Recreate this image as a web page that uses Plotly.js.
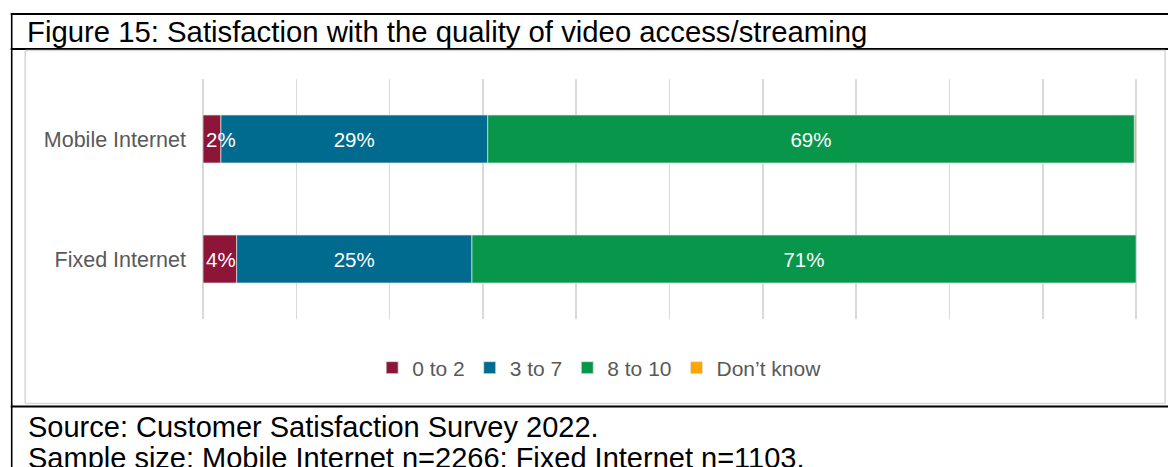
<!DOCTYPE html>
<html>
<head>
<meta charset="utf-8">
<script src="https://cdn.plot.ly/plotly-3.0.1.min.js"></script>
<style>
  html, body { margin: 0; padding: 0; background: #ffffff; }
  #chart { width: 1168px; height: 467px; }
</style>
</head>
<body>
<div id="chart"></div>
<script>
// ---- Data ----
const categories = ["Mobile Internet", "Fixed Internet"];
const seriesNames = ["0 to 2", "3 to 7", "8 to 10", "Don\u2019t know"];
const score0to2  = [1.9, 3.6];
const score3to7  = [28.6, 25.2];
const score8to10 = [69.3, 71.2];
const dontKnow   = [0.2, 0.0];
const seriesColors = ["#8C1538", "#006A8F", "#08974A", "#FFA500"];
const titleText = "Figure 15: Satisfaction with the quality of video access/streaming";
const sourceText = "Source: Customer Satisfaction Survey 2022.";
const sampleText = "Sample size: Mobile Internet n=2266; Fixed Internet n=1103.";

// ---- Layout geometry (pixels in the 1168x467 window) ----
const W = 1168, H = 467;
const XMAX = 100.2;                      // a hair past 100 so the 100% gridline is kept
const plotL = 203.3, plotT = 79, plotB = 319;
const plotR = plotL + (1136.5 - plotL) * XMAX / 100;
const px2x = px => (px - plotL) / (plotR - plotL);
const py2y = py => (plotB - py) / (plotB - plotT);

const FONT = '"Liberation Sans", Arial, sans-serif';

// Stack the segments with explicit bases (cumulative sums of the series),
// then draw them from right to left so each label sits on top.
const valueSets = [score0to2, score3to7, score8to10, dontKnow];
const bases = valueSets.map((vals, i) =>
  vals.map((_, j) => valueSets.slice(0, i).reduce((s, arr) => s + arr[j], 0)));

const traces = valueSets.map((vals, i) => ({
  type: 'bar',
  orientation: 'h',
  name: seriesNames[i],
  y: categories,
  x: vals,
  base: bases[i],
  marker: { color: seriesColors[i], line: { color: 'rgba(220,228,234,0.9)', width: 0.8 } },
  texttemplate: i < 3 ? '%{x:.0f}%' : '',
  textposition: i < 3 ? 'inside' : 'none',
  insidetextanchor: i === 0 ? 'start' : 'middle',
  textangle: 0,
  constraintext: 'none',
  cliponaxis: false,
  textfont: { color: '#ffffff', size: 20.5, family: FONT },
  hoverinfo: 'name+x+y'
})).reverse();

const black = { color: '#000000', width: 2 };
const grey = { color: '#d9d9d9', width: 1.6 };
const hline = (py, x0, x1, line) => ({ type: 'line', xref: 'paper', yref: 'paper',
  x0: px2x(x0), x1: px2x(x1), y0: py2y(py), y1: py2y(py), line });
const vline = (px, y0, y1, line) => ({ type: 'line', xref: 'paper', yref: 'paper',
  x0: px2x(px), x1: px2x(px), y0: py2y(y0), y1: py2y(y1), line });

const shapes = [
  hline(14, 11, 1170, black),
  hline(49, 11, 1170, black),
  hline(406.5, 11, 1170, black),
  vline(12, 13, 470, { color: '#000000', width: 1.6 }),
  // inner light frame of the chart area
  hline(50.5, 25.5, 1165.5, grey),
  hline(403.5, 25.5, 1165.5, grey),
  vline(25.5, 50.5, 403.5, grey),
  vline(1165.5, 50.5, 403.5, grey)
];

const annotations = [
  { text: sourceText, xref: 'paper', yref: 'paper', x: px2x(26), y: py2y(427),
    xanchor: 'left', yanchor: 'middle', showarrow: false,
    font: { family: FONT, size: 29, color: '#000000' } },
  { text: sampleText, xref: 'paper', yref: 'paper', x: px2x(26), y: py2y(458),
    xanchor: 'left', yanchor: 'middle', showarrow: false,
    font: { family: FONT, size: 29, color: '#000000' } }
];

const layout = {
  width: W, height: H,
  margin: { l: plotL, r: W - plotR, t: plotT, b: H - plotB, pad: 0 },
  paper_bgcolor: '#ffffff', plot_bgcolor: '#ffffff',
  font: { family: FONT, color: '#595959' },
  title: { text: titleText, xref: 'container', yref: 'container',
    x: 27 / W, xanchor: 'left', y: 1 - 31.5 / H, yanchor: 'middle',
    font: { family: FONT, size: 29.3, color: '#000000' } },
  barmode: 'overlay',
  bargap: 0.6,
  xaxis: { range: [0, XMAX], dtick: 10, tick0: 0, showticklabels: false,
    showgrid: true, gridcolor: '#d9d9d9', gridwidth: 1.6,
    zeroline: true, zerolinecolor: '#d9d9d9', zerolinewidth: 1.6,
    showline: false, fixedrange: true },
  yaxis: { type: 'category', autorange: 'reversed', showgrid: false, zeroline: false,
    showline: false, ticks: '', ticklabelstandoff: 16,
    tickfont: { family: FONT, size: 21.5, color: '#595959' }, fixedrange: true },
  showlegend: true,
  legend: { orientation: 'h', x: px2x(600), xanchor: 'center', y: py2y(368), yanchor: 'middle',
    font: { family: FONT, size: 21, color: '#595959' }, traceorder: 'reversed',
    itemclick: false, itemdoubleclick: false, bgcolor: 'rgba(0,0,0,0)' },
  shapes, annotations
};

Plotly.newPlot('chart', traces, layout, { staticPlot: true, displayModeBar: false });
</script>
</body>
</html>
